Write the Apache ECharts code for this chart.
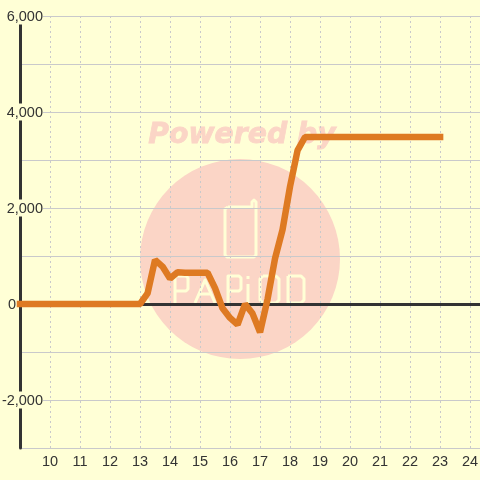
<!DOCTYPE html>
<html>
<head>
<meta charset="utf-8">
<style>
  html, body { margin: 0; padding: 0; background: #ffffd6; }
  #chart { width: 480px; height: 480px; }
</style>
<script src="https://cdn.jsdelivr.net/npm/echarts@6/dist/echarts.min.js"></script>
</head>
<body>
<div id="chart"></div>
<script>
// hours, quarter-hour steps
const hours = [9, 9.25, 9.5, 9.75, 10, 10.25, 10.5, 10.75, 11, 11.25, 11.5, 11.75, 12, 12.25, 12.5, 12.75,
  13, 13.25, 13.5, 13.75, 14, 14.25, 14.5, 14.75, 15, 15.25, 15.5, 15.75, 16, 16.25, 16.5, 16.75,
  17, 17.25, 17.5, 17.75, 18, 18.25, 18.5, 18.75, 19, 19.25, 19.5, 19.75, 20, 20.25, 20.5, 20.75,
  21, 21.25, 21.5, 21.75, 22, 22.25, 22.5, 22.75, 23]
const values = [0, 0, 0, 0, 0, 0, 0, 0, 0, 0, 0, 0, 0, 0, 0, 0,
  0, 220, 920, 780, 530, 660, 650, 650, 650, 650, 330, -90, -290, -430, 0, -200,
  -590, 100, 950, 1550, 2450, 3200, 3480, 3480, 3480, 3480, 3480, 3480, 3480, 3480, 3480, 3480,
  3480, 3480, 3480, 3480, 3480, 3480, 3480, 3480, 3480]

const BG = '#ffffd6'
const TEXT = '#333333'
const GRID = '#c9c9cb'
const FONT = '"Liberation Sans", Arial, sans-serif'

// watermark logo, stroked on the circle
const logoStrokes = [
  // phone
  [[228, 207], [252, 207], [252, 202], [254, 200], [256, 202], [256, 255], [254, 257], [227, 257], [225, 255], [225, 209], [228, 207]],
  // P
  [[175, 303], [175, 276], [186, 276], [188, 278], [188, 289], [186, 291], [175, 291]],
  // A
  [[195, 303], [205, 280], [215, 303]],
  [[198, 294], [212, 294]],
  // P
  [[228, 303], [228, 276], [239, 276], [241, 278], [241, 289], [239, 291], [228, 291]],
  // i
  [[248, 303], [248, 284]],
  [[248, 276], [248, 279]],
  // O
  [[263, 276], [276, 276], [279, 279], [279, 300], [276, 303], [263, 303], [260, 300], [260, 279], [263, 276]],
  // D
  [[288, 276], [301, 276], [304, 279], [304, 300], [301, 303], [288, 303], [288, 276]]
]

const chart = echarts.init(document.getElementById('chart'))

chart.setOption({
  backgroundColor: BG,
  animation: false,
  grid: { left: 20, right: 0, top: 16, bottom: 32, outerBoundsMode: 'none' },
  graphic: [
    { type: 'circle', z: -5, shape: { cx: 240, cy: 259, r: 100 }, style: { fill: '#fbd5c6' } },
    { type: 'text', z: -4, x: 242, y: 136, style: {
      text: 'Powered by', fill: '#fbd5c6', stroke: '#fbd5c6', lineWidth: 0.8, align: 'center', verticalAlign: 'middle',
      font: 'italic bold 28.3px "DejaVu Sans"'
    } }
  ].concat(logoStrokes.map(points => ({
    type: 'polyline', z: -4, shape: { points },
    style: { fill: 'none', stroke: BG, lineWidth: 3, lineJoin: 'round' }
  }))),
  xAxis: [
    {
      type: 'value', min: 9, max: 24.33, interval: 1,
      axisLine: { onZero: false, show: false },
      axisTick: { show: false },
      splitLine: { show: true, lineStyle: { color: GRID, type: [2, 3], width: 1 } },
      axisLabel: { color: TEXT, fontFamily: FONT, fontSize: 14.5, margin: 6, showMinLabel: false, showMaxLabel: false }
    },
    {
      // heavy line through zero
      type: 'value', min: 9, max: 24.33, interval: 1,
      axisLine: { onZero: true, lineStyle: { color: TEXT, width: 3 } },
      axisTick: { show: false }, axisLabel: { show: false }, splitLine: { show: false }
    }
  ],
  yAxis: {
    type: 'value', min: -3000, max: 6000, interval: 1000,
    axisLine: { show: true, onZero: false, lineStyle: { color: TEXT, width: 3 } },
    axisTick: { show: false },
    splitLine: { show: true, lineStyle: { color: GRID, width: 1 } },
    axisLabel: {
      inside: true, align: 'right', margin: 23, color: TEXT, fontFamily: FONT, fontSize: 14.5,
      formatter: v => {
        if (v === 0) return '{zero|0}'
        return v % 2000 === 0 ? '{tick|' + v.toLocaleString('en-US') + '}' : ''
      },
      rich: {
        tick: { backgroundColor: BG, padding: [2, 0, 0, 0], color: TEXT, fontFamily: FONT, fontSize: 14.5 },
        zero: { padding: [2, 27, 0, 0], color: TEXT, fontFamily: FONT, fontSize: 14.5 }
      }
    }
  },
  series: [{
    type: 'line',
    data: hours.map((h, i) => [h, values[i]]),
    showSymbol: false,
    clip: false,
    lineStyle: { color: '#de7a22', width: 6.5, cap: 'square', join: 'bevel' }
  }]
})
</script>
</body>
</html>
